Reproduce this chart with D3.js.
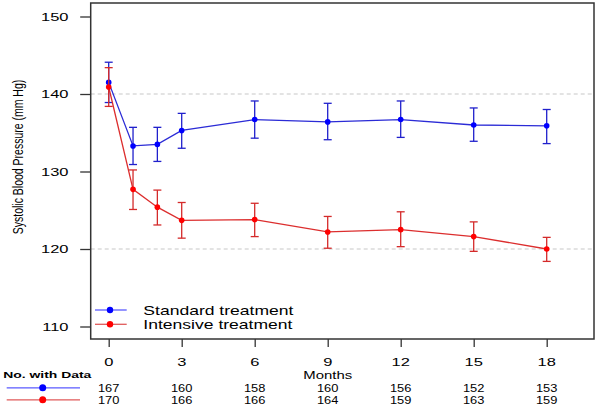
<!DOCTYPE html>
<html><head><meta charset="utf-8">
<script src="https://cdn.jsdelivr.net/npm/d3@7"></script>
<style>body{margin:0;background:#fff}svg{display:block}text{font-family:"Liberation Sans",Arial,sans-serif;fill:#000}</style>
</head><body><svg id="c" width="600" height="406"></svg>
<script>
const months = [0, 1, 2, 3, 6, 9, 12, 15, 18];
const standardMean  = [141.5, 133.3, 133.5, 135.3, 136.7, 136.4, 136.7, 136.0, 135.9];
const standardUpper = [144.1, 135.7, 135.7, 137.5, 139.1, 138.8, 139.1, 138.2, 138.0];
const standardLower = [138.9, 130.9, 131.3, 133.0, 134.3, 134.1, 134.4, 133.9, 133.6];
const intensiveMean  = [140.9, 127.7, 125.4, 123.7, 123.8, 122.2, 122.5, 121.6, 120.0];
const intensiveUpper = [143.4, 130.2, 127.6, 126.0, 125.9, 124.2, 124.8, 123.5, 121.5];
const intensiveLower = [138.4, 125.1, 123.1, 121.4, 121.6, 120.1, 120.3, 119.7, 118.4];
const yTicks = [110, 120, 130, 140, 150];
const gridValues = [120, 140];
const xTicks = [0, 3, 6, 9, 12, 15, 18];
const standardN  = [167, 160, 158, 160, 156, 152, 153];
const intensiveN = [170, 166, 166, 164, 159, 163, 159];
const seriesNames = ["Standard treatment", "Intensive treatment"];

const svg = d3.select("#c");
const x = d3.scaleLinear().domain([0, 18]).range([108.7, 546.7]);
const y = d3.scaleLinear().domain([110, 150]).range([326.5, 16.5]);
const box = {l: 90.7, r: 594, t: 3, b: 339};

function sText(g, str, tx, ty, sx, anchor, size, weight) {
  return g.append("text").attr("transform", `translate(${tx},${ty}) scale(${sx},1)`)
    .attr("text-anchor", anchor || "start").style("font-size", size + "px")
    .style("font-weight", weight || "normal").text(str);
}

// gridlines
svg.append("g").selectAll("line").data(gridValues).join("line")
  .attr("x1", box.l).attr("x2", box.r).attr("y1", d => y(d)).attr("y2", d => y(d))
  .attr("stroke", "#c8c8c8").attr("stroke-width", 1.1).attr("stroke-dasharray", "4,3");

// box
svg.append("rect").attr("x", box.l).attr("y", box.t).attr("width", box.r - box.l).attr("height", box.b - box.t)
  .attr("fill", "none").attr("stroke", "#333").attr("stroke-width", 1.5);

// y axis
const yAxis = svg.append("g").attr("transform", `translate(${box.l},0)`)
  .call(d3.axisLeft(y).tickValues(yTicks).tickSize(10.5).tickFormat(""));
yAxis.select(".domain").remove();
yAxis.selectAll("line").attr("stroke", "#333").attr("stroke-width", 1.3);
yTicks.forEach(v => sText(svg, v, 68.5, y(v) + 4.2, 1.42, "end", 11.6));

// x axis
const xAxis = svg.append("g").attr("transform", `translate(0,${box.b})`)
  .call(d3.axisBottom(x).tickValues(xTicks).tickSize(8).tickFormat(""));
xAxis.select(".domain").remove();
xAxis.selectAll("line").attr("stroke", "#333").attr("stroke-width", 1.3);
xTicks.forEach(v => sText(svg, v, x(v), 365.6, 1.42, "middle", 11.6));
sText(svg, "Months", x(9), 379.3, 1.45, "middle", 10.3);

// y title (stretched horizontally like the rest of the picture)
svg.append("text").attr("transform", `translate(23,157) scale(1.4,1) rotate(-90)`).attr("text-anchor", "middle")
  .style("font-size", "10.5px").text("Systolic Blood Pressure (mm Hg)");

// series
const series = [
  {mean: standardMean, up: standardUpper, lo: standardLower, line: "#2b2bd6", bar: "#2020cc", dot: "#0000ff", leg: "#5a5aff"},
  {mean: intensiveMean, up: intensiveUpper, lo: intensiveLower, line: "#dc2e2e", bar: "#d42a2a", dot: "#ff0000", leg: "#e05a5a"}
];
const cap = 4;
series.forEach(s => {
  const g = svg.append("g");
  const pts = months.map((m, i) => [x(m), y(s.mean[i])]);
  g.append("path").attr("d", d3.line()(pts)).attr("fill", "none").attr("stroke", s.line).attr("stroke-width", 1.3);
  months.forEach((m, i) => {
    const cx = x(m);
    g.append("line").attr("x1", cx).attr("x2", cx).attr("y1", y(s.up[i])).attr("y2", y(s.lo[i])).attr("stroke", s.bar).attr("stroke-width", 1.3);
    g.append("line").attr("x1", cx - cap).attr("x2", cx + cap).attr("y1", y(s.up[i])).attr("y2", y(s.up[i])).attr("stroke", s.bar).attr("stroke-width", 1.3);
    g.append("line").attr("x1", cx - cap).attr("x2", cx + cap).attr("y1", y(s.lo[i])).attr("y2", y(s.lo[i])).attr("stroke", s.bar).attr("stroke-width", 1.3);
  });
  g.selectAll("circle").data(pts).join("circle").attr("cx", d => d[0]).attr("cy", d => d[1]).attr("r", 2.8).attr("fill", s.dot);
});

// inner legend
seriesNames.forEach((name, i) => {
  const ly = 310 + i * 14.3;
  svg.append("line").attr("x1", 95).attr("x2", 126.7).attr("y1", ly).attr("y2", ly).attr("stroke", series[i].leg).attr("stroke-width", 1.3);
  svg.append("circle").attr("cx", 110).attr("cy", ly).attr("r", 3.2).attr("fill", series[i].dot);
  sText(svg, name, 143.3, ly + 4.8, 1.35, "start", 13);
});

// number at risk table
sText(svg, "No. with Data", 3.3, 378.3, 1.42, "start", 9.8, "bold");
[standardN, intensiveN].forEach((arr, i) => {
  const ly = 387.8 + i * 12;
  svg.append("line").attr("x1", 6.7).attr("x2", 80).attr("y1", ly).attr("y2", ly).attr("stroke", series[i].leg).attr("stroke-width", 1.3);
  svg.append("circle").attr("cx", 42.7).attr("cy", ly).attr("r", 3.5).attr("fill", series[i].dot);
  arr.forEach((n, j) => sText(svg, n, x(xTicks[j]), ly + 4.2, 1.17, "middle", 11));
});
</script></body></html>
